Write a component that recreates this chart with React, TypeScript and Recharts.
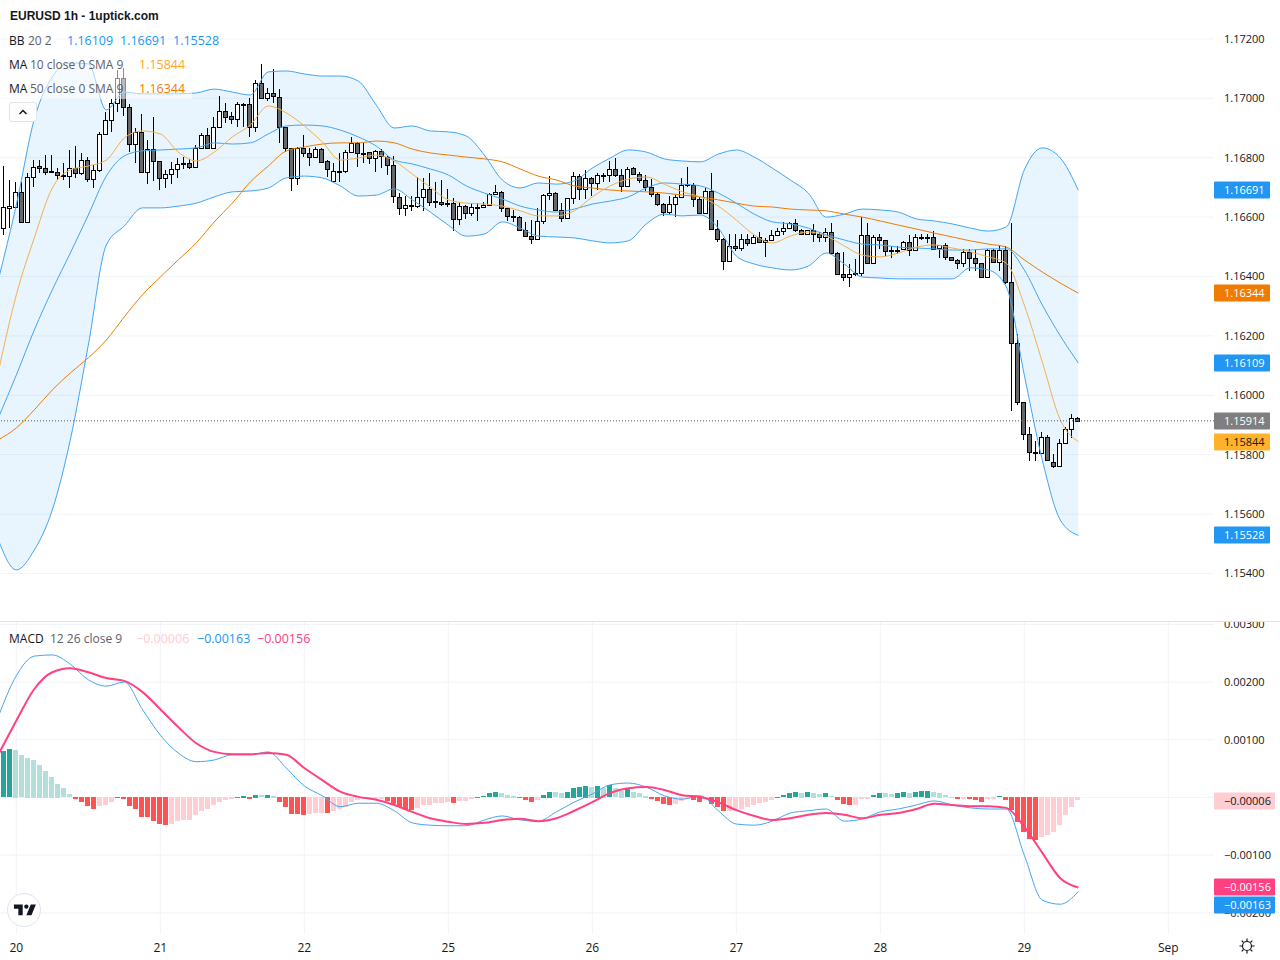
import React from 'react';
import {
  ComposedChart,
  Area,
  Bar,
  Line,
  XAxis,
  YAxis,
  CartesianGrid,
  ReferenceLine,
} from 'recharts';

// hourly candles, first one sits just off the left edge
const opens = [1.16563,
  1.16562,1.16631,1.16635,1.16683,1.16585,1.16734,1.16771,1.16764,1.16754,1.16751,
  1.16741,1.16740,1.16764,1.16747,1.16791,1.16727,1.16757,1.16880,1.16927,1.16983,
  1.17067,1.16970,1.16845,1.16885,1.16751,1.16828,1.16788,1.16731,1.16744,1.16761,
  1.16779,1.16781,1.16768,1.16832,1.16875,1.16832,1.16902,1.16956,1.16939,1.16929,
  1.16978,1.16980,1.16905,1.17050,1.17000,1.17017,1.17006,1.16902,1.16832,1.16731,
  1.16832,1.16815,1.16801,1.16828,1.16788,1.16720,1.16752,1.16754,1.16820,1.16851,
  1.16817,1.16818,1.16798,1.16824,1.16804,1.16774,1.16669,1.16630,1.16642,1.16637,
  1.16667,1.16694,1.16653,1.16652,1.16646,1.16646,1.16593,1.16639,1.16613,1.16635,
  1.16634,1.16642,1.16677,1.16686,1.16630,1.16604,1.16602,1.16556,1.16535,1.16525,
  1.16586,1.16673,1.16680,1.16623,1.16596,1.16663,1.16737,1.16694,1.16731,1.16714,
  1.16739,1.16741,1.16761,1.16741,1.16704,1.16764,1.16744,1.16724,1.16700,1.16678,
  1.16643,1.16618,1.16643,1.16667,1.16708,1.16709,1.16660,1.16615,1.16689,1.16559,
  1.16525,1.16451,1.16502,1.16495,1.16525,1.16512,1.16532,1.16515,1.16522,1.16539,
  1.16552,1.16562,1.16579,1.16556,1.16542,1.16556,1.16542,1.16532,1.16549,1.16480,
  1.16407,1.16397,1.16409,1.16411,1.16539,1.16447,1.16532,1.16522,1.16487,1.16488,
  1.16492,1.16515,1.16488,1.16531,1.16534,1.16532,1.16495,1.16505,1.16465,1.16455,
  1.16444,1.16481,1.16461,1.16444,1.16397,1.16488,1.16450,1.16488,1.16380,1.16175,
  1.15976,1.15868,1.15808,1.15807,1.15858,1.15777,1.15763,1.15841,1.15885,1.15922];

const highs = [1.16624,
  1.16772,1.16725,1.16719,1.16719,1.16747,1.16792,1.16792,1.16809,1.16809,1.16764,
  1.16781,1.16826,1.16839,1.16815,1.16804,1.16775,1.16888,1.16955,1.16997,1.17095,
  1.17101,1.16981,1.16899,1.16947,1.16860,1.16936,1.16790,1.16759,1.16787,1.16798,
  1.16804,1.16795,1.16843,1.16882,1.16899,1.16936,1.17008,1.16983,1.16954,1.16989,
  1.16983,1.17000,1.17062,1.17114,1.17034,1.17098,1.17030,1.16904,1.16834,1.16837,
  1.16876,1.16832,1.16837,1.16832,1.16792,1.16781,1.16815,1.16826,1.16871,1.16854,
  1.16854,1.16820,1.16825,1.16828,1.16807,1.16806,1.16682,1.16671,1.16671,1.16736,
  1.16733,1.16750,1.16719,1.16725,1.16694,1.16663,1.16652,1.16641,1.16649,1.16649,
  1.16652,1.16682,1.16707,1.16687,1.16631,1.16624,1.16603,1.16585,1.16590,1.16630,
  1.16678,1.16738,1.16685,1.16646,1.16664,1.16752,1.16744,1.16759,1.16736,1.16747,
  1.16750,1.16790,1.16800,1.16761,1.16770,1.16770,1.16751,1.16742,1.16727,1.16680,
  1.16646,1.16671,1.16674,1.16731,1.16768,1.16714,1.16669,1.16697,1.16750,1.16590,
  1.16529,1.16542,1.16542,1.16542,1.16542,1.16540,1.16549,1.16529,1.16557,1.16562,
  1.16585,1.16585,1.16593,1.16559,1.16557,1.16576,1.16551,1.16562,1.16579,1.16484,
  1.16481,1.16442,1.16458,1.16602,1.16579,1.16540,1.16542,1.16523,1.16501,1.16503,
  1.16520,1.16540,1.16542,1.16542,1.16542,1.16553,1.16507,1.16512,1.16467,1.16458,
  1.16493,1.16492,1.16489,1.16447,1.16492,1.16493,1.16502,1.16501,1.16579,1.16205,
  1.15977,1.15892,1.15846,1.15875,1.15866,1.15801,1.15853,1.15892,1.15936,1.15928];

const lows = [1.16338,
  1.16540,1.16562,1.16633,1.16585,1.16583,1.16702,1.16747,1.16742,1.16747,1.16725,
  1.16725,1.16699,1.16731,1.16742,1.16719,1.16699,1.16753,1.16876,1.16888,1.16955,
  1.16940,1.16820,1.16781,1.16749,1.16710,1.16722,1.16691,1.16699,1.16710,1.16731,
  1.16761,1.16763,1.16767,1.16831,1.16829,1.16829,1.16900,1.16918,1.16914,1.16902,
  1.16905,1.16869,1.16888,1.16998,1.16992,1.16983,1.16851,1.16820,1.16689,1.16708,
  1.16804,1.16773,1.16798,1.16781,1.16736,1.16718,1.16719,1.16747,1.16818,1.16768,
  1.16781,1.16779,1.16753,1.16764,1.16742,1.16649,1.16607,1.16604,1.16622,1.16630,
  1.16621,1.16637,1.16632,1.16637,1.16635,1.16554,1.16573,1.16594,1.16605,1.16588,
  1.16633,1.16641,1.16673,1.16618,1.16588,1.16585,1.16554,1.16532,1.16510,1.16523,
  1.16578,1.16658,1.16622,1.16585,1.16595,1.16644,1.16658,1.16660,1.16671,1.16691,
  1.16718,1.16719,1.16736,1.16686,1.16703,1.16742,1.16714,1.16689,1.16669,1.16637,
  1.16604,1.16607,1.16602,1.16663,1.16703,1.16635,1.16611,1.16611,1.16557,1.16517,
  1.16423,1.16450,1.16487,1.16487,1.16501,1.16508,1.16514,1.16464,1.16521,1.16536,
  1.16540,1.16560,1.16551,1.16539,1.16540,1.16517,1.16517,1.16517,1.16478,1.16406,
  1.16386,1.16366,1.16400,1.16400,1.16446,1.16446,1.16492,1.16469,1.16461,1.16476,
  1.16490,1.16469,1.16487,1.16523,1.16514,1.16494,1.16461,1.16456,1.16452,1.16426,
  1.16433,1.16420,1.16420,1.16396,1.16396,1.16447,1.16420,1.16375,1.15948,1.15966,
  1.15849,1.15780,1.15780,1.15802,1.15780,1.15756,1.15762,1.15838,1.15855,1.15913];

const closes = [1.16355,
  1.16633,1.16637,1.16683,1.16585,1.16734,1.16770,1.16764,1.16753,1.16751,1.16741,
  1.16743,1.16764,1.16747,1.16791,1.16727,1.16757,1.16880,1.16927,1.16983,1.17067,
  1.16970,1.16845,1.16885,1.16751,1.16828,1.16788,1.16731,1.16744,1.16761,1.16778,
  1.16781,1.16768,1.16832,1.16875,1.16832,1.16902,1.16956,1.16938,1.16929,1.16980,
  1.16980,1.16905,1.17050,1.17000,1.17017,1.17007,1.16902,1.16832,1.16731,1.16832,
  1.16815,1.16801,1.16828,1.16787,1.16761,1.16754,1.16755,1.16820,1.16851,1.16815,
  1.16815,1.16798,1.16824,1.16806,1.16774,1.16670,1.16630,1.16642,1.16639,1.16667,
  1.16694,1.16650,1.16651,1.16643,1.16643,1.16593,1.16639,1.16613,1.16635,1.16632,
  1.16642,1.16677,1.16686,1.16630,1.16604,1.16602,1.16556,1.16535,1.16525,1.16586,
  1.16673,1.16680,1.16623,1.16596,1.16663,1.16737,1.16694,1.16731,1.16714,1.16741,
  1.16741,1.16761,1.16741,1.16704,1.16763,1.16744,1.16724,1.16700,1.16678,1.16643,
  1.16618,1.16643,1.16667,1.16709,1.16710,1.16660,1.16615,1.16689,1.16559,1.16525,
  1.16451,1.16501,1.16495,1.16525,1.16512,1.16532,1.16515,1.16522,1.16539,1.16552,
  1.16562,1.16579,1.16556,1.16542,1.16556,1.16542,1.16532,1.16549,1.16480,1.16407,
  1.16397,1.16410,1.16411,1.16539,1.16447,1.16532,1.16522,1.16487,1.16489,1.16490,
  1.16515,1.16488,1.16532,1.16533,1.16532,1.16494,1.16505,1.16465,1.16455,1.16444,
  1.16481,1.16461,1.16444,1.16397,1.16488,1.16450,1.16488,1.16380,1.16175,1.15976,
  1.15868,1.15808,1.15806,1.15858,1.15781,1.15763,1.15841,1.15885,1.15922,1.15914];

// indicator lines, one reading every third candle
const bbUpper = [1.16388,1.16641,1.16930,1.17072,1.17119,1.17116,1.16961,1.17021,1.17015,1.17015,
  1.17015,1.17018,1.17031,1.17021,1.17011,1.17089,1.17092,1.17082,1.17075,1.17075,
  1.17058,1.16977,1.16900,1.16907,1.16890,1.16887,1.16873,1.16809,1.16725,1.16698,
  1.16715,1.16711,1.16722,1.16765,1.16799,1.16826,1.16819,1.16796,1.16789,1.16786,
  1.16812,1.16826,1.16802,1.16765,1.16725,1.16681,1.16600,1.16610,1.16627,1.16624,
  1.16617,1.16594,1.16587,1.16577,1.16563,1.16553,1.16567,1.16759,1.16833,1.16799,1.16691];

const bbBasis = [1.15924,1.16068,1.16220,1.16355,1.16479,1.16607,1.16738,1.16806,1.16823,1.16826,
  1.16829,1.16833,1.16850,1.16846,1.16850,1.16880,1.16907,1.16910,1.16907,1.16893,
  1.16870,1.16839,1.16792,1.16779,1.16762,1.16742,1.16705,1.16681,1.16661,1.16637,
  1.16624,1.16617,1.16627,1.16644,1.16654,1.16668,1.16698,1.16715,1.16711,1.16705,
  1.16681,1.16647,1.16610,1.16584,1.16577,1.16563,1.16540,1.16523,1.16509,1.16506,
  1.16499,1.16496,1.16493,1.16489,1.16489,1.16493,1.16493,1.16422,1.16304,1.16200,1.16109];

const bbLower = [1.15513,1.15412,1.15479,1.15614,1.15850,1.16169,1.16506,1.16570,1.16631,1.16631,
  1.16637,1.16647,1.16668,1.16685,1.16688,1.16698,1.16732,1.16738,1.16732,1.16705,
  1.16671,1.16674,1.16695,1.16658,1.16617,1.16573,1.16536,1.16543,1.16584,1.16563,
  1.16536,1.16533,1.16530,1.16520,1.16513,1.16520,1.16577,1.16610,1.16604,1.16607,
  1.16563,1.16469,1.16442,1.16429,1.16422,1.16435,1.16479,1.16442,1.16398,1.16395,
  1.16392,1.16392,1.16392,1.16392,1.16429,1.16422,1.16365,1.16068,1.15782,1.15580,1.15528];

const ma10 = [1.16078,1.16338,1.16530,1.16698,1.16759,1.16772,1.16792,1.16866,1.16890,1.16880,
  1.16819,1.16789,1.16819,1.16870,1.16910,1.16974,1.16951,1.16907,1.16853,1.16792,
  1.16799,1.16809,1.16789,1.16745,1.16701,1.16658,1.16647,1.16644,1.16637,1.16621,
  1.16604,1.16604,1.16621,1.16668,1.16705,1.16728,1.16735,1.16711,1.16685,1.16668,
  1.16637,1.16590,1.16540,1.16513,1.16536,1.16550,1.16536,1.16503,1.16472,1.16466,
  1.16479,1.16499,1.16506,1.16496,1.16483,1.16466,1.16445,1.16304,1.16112,1.15917,1.15844];

const ma50 = [1.15850,1.15890,1.15951,1.16018,1.16075,1.16126,1.16186,1.16264,1.16338,1.16398,
  1.16456,1.16513,1.16584,1.16647,1.16718,1.16772,1.16823,1.16836,1.16846,1.16850,
  1.16850,1.16856,1.16850,1.16829,1.16816,1.16809,1.16802,1.16796,1.16786,1.16762,
  1.16738,1.16725,1.16705,1.16698,1.16691,1.16688,1.16685,1.16681,1.16674,1.16668,
  1.16658,1.16647,1.16637,1.16634,1.16627,1.16624,1.16621,1.16610,1.16600,1.16587,
  1.16573,1.16560,1.16546,1.16533,1.16520,1.16509,1.16499,1.16456,1.16415,1.16378,1.16344];

const macdLine = [0.0014,0.00211,0.00245,0.00247,0.00231,0.00204,0.00193,0.002,0.00153,0.00108,
  0.00077,0.00062,0.00065,0.00074,0.00074,0.00079,0.00051,0.0002,0.00003,-0.00016,
  -0.0001,-0.0001,-0.00023,-0.00044,-0.00048,-0.00049,-0.00049,-0.00039,-0.00032,-0.00039,
  -0.00041,-0.00025,-0.00008,0.00006,0.00022,0.00025,0.00018,0.00003,-0.00003,0.00003,
  -0.00023,-0.00046,-0.00048,-0.00041,-0.00027,-0.00023,-0.0002,-0.00041,-0.00037,-0.00025,
  -0.0002,-0.00013,-0.00006,-0.00013,-0.00018,-0.0002,-0.0002,-0.001,-0.00178,-0.00185,-0.00163];

const signalLine = [0.00074,0.00133,0.00188,0.00217,0.00224,0.00217,0.00207,0.00202,0.00183,0.00153,
  0.00122,0.00094,0.00079,0.00075,0.00075,0.00077,0.00074,0.00051,0.0003,0.0001,
  0.00001,-0.00004,-0.00013,-0.00025,-0.00036,-0.00042,-0.00046,-0.00044,-0.00039,-0.00037,
  -0.00041,-0.00036,-0.00023,-0.00008,0.00008,0.00016,0.00018,0.00013,0.00004,0.00001,
  -0.00008,-0.00022,-0.00032,-0.00039,-0.00036,-0.0003,-0.00027,-0.0003,-0.00036,-0.0003,
  -0.00027,-0.0002,-0.00011,-0.00013,-0.00015,-0.00015,-0.00018,-0.00051,-0.00096,-0.0014,-0.00156];

const histValues = [0.00066,
  0.0008,0.00084,0.00083,0.00073,0.00069,0.00065,0.00057,0.00046,0.00036,0.00024,
  0.00016,0.00006,-0.00004,-0.00008,-0.00016,-0.00021,-0.00016,-0.00013,-0.00008,0.00001,
  -0.00004,-0.00016,-0.00021,-0.00034,-0.00035,-0.00042,-0.00047,-0.00049,-0.00047,-0.00042,
  -0.0004,-0.00039,-0.00032,-0.00025,-0.00021,-0.00014,-0.00008,-0.00005,-0.00004,0.00001,
  0.00003,-0.00004,0.00005,0.00004,0.00005,0.00003,-0.00008,-0.00018,-0.00029,-0.0003,
  -0.00031,-0.0003,-0.00028,-0.00027,-0.00028,-0.00025,-0.00021,-0.00018,-0.00008,-0.00006,
  -0.00004,-0.00004,-0.00004,-0.00004,-0.00007,-0.00012,-0.00017,-0.00021,-0.00022,-0.00019,
  -0.00013,-0.00013,-0.0001,-0.0001,-0.00009,-0.0001,-0.00007,-0.00007,-0.00003,0.00001,
  0.00002,0.00007,0.00009,0.00007,0.00005,0.00003,-0.00001,-0.00005,-0.00009,-0.00005,
  0.00005,0.0001,0.00009,0.00008,0.0001,0.00017,0.00018,0.0002,0.00019,0.0002,
  0.00017,0.00021,0.00016,0.00012,0.00016,0.0001,0.00007,0.00003,-0.00003,-0.00007,
  -0.00012,-0.00013,-0.00012,-0.00007,-0.00004,-0.00005,-0.00008,-0.00004,-0.00012,-0.00017,
  -0.00025,-0.00025,-0.00024,-0.0002,-0.00017,-0.00013,-0.0001,-0.00008,-0.00005,0.00001,
  0.00004,0.00008,0.00009,0.00008,0.00009,0.00008,0.00006,0.00007,0.00002,-0.00006,
  -0.00012,-0.00013,-0.00013,-0.00003,-0.00003,0.00004,0.00008,0.00007,0.00006,0.00008,
  0.00009,0.00008,0.00009,0.00011,0.00012,0.00009,0.00008,0.00004,0.00001,-0.00003,
  -0.00003,-0.00004,-0.00005,-0.00008,-0.00003,-0.00003,0.00002,-0.00005,-0.00022,-0.00043,
  -0.0006,-0.00072,-0.00074,-0.00069,-0.00065,-0.0006,-0.00048,-0.00032,-0.00018,-0.00006];

const dayTicks = [2, 26, 50, 74, 98, 122, 146, 170, 194];
const dayLabels = ['20', '21', '22', '25', '26', '27', '28', '29', 'Sep'];
const priceTicks = [1.154, 1.156, 1.158, 1.16, 1.162, 1.164, 1.166, 1.168, 1.17, 1.172];
const macdTicks = [-0.002, -0.001, 0, 0.001, 0.002, 0.003];

const priceBadges = [1.16691, 1.16344, 1.16109, 1.15914, 1.15844, 1.15528];
const priceBadgeColors = ['#2196f3', '#ef7c00', '#2196f3', '#7f7f7f', '#ffb32a', '#2196f3'];
const priceBadgeText = ['#fff', '#fff', '#fff', '#fff', '#131722', '#fff'];
const macdBadges = [-0.00006, -0.00156, -0.00163];
const macdBadgeColors = ['#ffcdd2', '#ff4081', '#2196f3'];
const macdBadgeText = ['#131722', '#fff', '#fff'];
// the last MACD badge is pushed down so it does not cover the signal badge
const macdBadgeShift = [0, 0, 13];

const AXIS_FONT = '"Open Sans", sans-serif';
const TEXT = '#131722';
const GRID = '#f0f3fa';
const BLUE = '#2196f3';
const BB_LINE = '#42a5f5';

// x runs in candle numbers, so one candle is 6px across the 1214px plot
const xDomain: [number, number] = [-0.7167, 201.617];
const priceDomain: [number, number] = [1.1524, 1.17331];
const macdDomain: [number, number] = [-0.002366, 0.003041];

const sampled = (list: number[], i: number) => (i % 3 === 0 ? list[i / 3] : null);

const priceRows = opens.map((open, i) => ({
  idx: i - 1,
  open,
  high: highs[i],
  low: lows[i],
  close: closes[i],
  upper: sampled(bbUpper, i),
  basis: sampled(bbBasis, i),
  lower: sampled(bbLower, i),
  ma10: sampled(ma10, i),
  ma50: sampled(ma50, i),
}));

const histColor = (i: number) => {
  const v = histValues[i];
  const prev = i > 0 ? histValues[i - 1] : v;
  if (v >= 0) return v >= prev ? '#26a69a' : '#b2dfdb';
  return v < prev ? '#ff5252' : '#ffcdd2';
};

const macdRows = histValues.map((hist, i) => ({
  idx: i - 1,
  hist,
  color: histColor(i),
  macd: sampled(macdLine, i),
  signal: sampled(signalLine, i),
}));

const fmtPrice = (v: number) => v.toFixed(5);
const fmtMacd = (v: number) => (v < 0 ? '\u2212' : '') + Math.abs(v).toFixed(5);

const CandleShape = (props: any) => {
  const { x, y, width, height, payload } = props;
  const { open, high, low, close } = payload;
  const perPrice = height / (high - low);
  const toY = (p: number) => y + (high - p) * perPrice;
  const cx = Math.floor(x + width / 2) + 0.5;
  const top = Math.round(toY(Math.max(open, close))) + 0.5;
  const bottom = Math.max(Math.round(toY(Math.min(open, close))) + 0.5, top + 1);
  return (
    <g>
      <line x1={cx} x2={cx} y1={Math.round(y)} y2={Math.round(y + height)} stroke="#000" strokeWidth={1} />
      <rect
        x={cx - 2}
        y={top}
        width={4}
        height={bottom - top}
        fill={close >= open ? '#fff' : '#666'}
        stroke="#000"
        strokeWidth={1}
      />
    </g>
  );
};

const HistShape = (props: any) => {
  const { x, y, width, height, payload } = props;
  const top = Math.min(y, y + height);
  return (
    <rect
      x={Math.round(x)}
      y={Math.round(top)}
      width={Math.round(width)}
      height={Math.max(1, Math.round(Math.abs(height)))}
      fill={payload.color}
    />
  );
};

const badgeLabel = (text: string, fill: string, color: string, shift: number, wide: number) => (props: any) => {
  const { viewBox } = props;
  const left = viewBox.x + viewBox.width;
  const cy = Math.round(viewBox.y) + shift;
  return (
    <g>
      <rect x={left} y={cy - 8.5} width={wide} height={17} rx={1} fill={fill} />
      <text x={left + 10} y={cy + 4} fontFamily={AXIS_FONT} fontSize={11} fill={color}>
        {text}
      </text>
    </g>
  );
};

const Txt = ({ x, y, color = TEXT, bold, size = 12, family, children }: any) => (
  <span
    style={{
      position: 'absolute',
      left: x,
      top: y - 9,
      lineHeight: '20px',
      fontSize: size,
      color,
      fontWeight: bold ? 700 : 400,
      fontFamily: family || AXIS_FONT,
      whiteSpace: 'nowrap',
    }}
  >
    {children}
  </span>
);

const PriceChart = () => (
  <ComposedChart
    width={1280}
    height={621}
    data={priceRows}
    margin={{ top: 0, right: 0, bottom: 0, left: 0 }}
  >
    <CartesianGrid stroke={GRID} strokeWidth={1} syncWithTicks />
    <XAxis
      type="number"
      dataKey="idx"
      domain={xDomain}
      allowDataOverflow
      ticks={dayTicks}
      interval={0}
      tick={false}
      axisLine={false}
      tickLine={false}
      height={0}
    />
    <YAxis
      orientation="right"
      domain={priceDomain}
      allowDataOverflow
      ticks={priceTicks}
      interval={0}
      width={66}
      axisLine={false}
      tickLine={false}
      tickMargin={4}
      tickFormatter={fmtPrice}
      tick={{ fontSize: 11, fill: TEXT, fontFamily: AXIS_FONT }}
    />
    <Area
      dataKey={(d: any) => (d.upper == null ? null : [d.lower, d.upper])}
      name="BB band"
      type="monotone"
      stroke="none"
      fill={BLUE}
      fillOpacity={0.1}
      connectNulls
      isAnimationActive={false}
      dot={false}
      activeDot={false}
    />
    <Line dataKey="ma50" type="monotone" stroke="#ef7c00" strokeWidth={1} dot={false} connectNulls isAnimationActive={false} />
    <Line dataKey="upper" type="monotone" stroke={BB_LINE} strokeWidth={1} dot={false} connectNulls isAnimationActive={false} />
    <Line dataKey="basis" type="monotone" stroke={BB_LINE} strokeWidth={1} dot={false} connectNulls isAnimationActive={false} />
    <Line dataKey="lower" type="monotone" stroke={BB_LINE} strokeWidth={1} dot={false} connectNulls isAnimationActive={false} />
    <Line dataKey="ma10" type="monotone" stroke="#f5b04a" strokeWidth={1} dot={false} connectNulls isAnimationActive={false} />
    <Bar
      dataKey={(d: any) => [d.low, d.high]}
      name="EURUSD"
      barSize={5}
      shape={CandleShape}
      isAnimationActive={false}
    />
    <ReferenceLine y={1.15914} stroke="#555" strokeDasharray="1 2" />
  </ComposedChart>
);

const MacdChart = () => (
  <ComposedChart
    width={1280}
    height={338}
    data={macdRows}
    margin={{ top: 0, right: 0, bottom: 0, left: 0 }}
  >
    <CartesianGrid stroke={GRID} strokeWidth={1} syncWithTicks />
    <XAxis
      type="number"
      dataKey="idx"
      domain={xDomain}
      allowDataOverflow
      ticks={dayTicks}
      interval={0}
      height={26}
      axisLine={false}
      tickLine={false}
      tickMargin={3}
      tickFormatter={(v: number) => dayLabels[dayTicks.indexOf(v)]}
      tick={{ fontSize: 12, fill: TEXT, fontFamily: AXIS_FONT }}
    />
    <YAxis
      orientation="right"
      domain={macdDomain}
      allowDataOverflow
      ticks={macdTicks}
      interval={0}
      width={66}
      axisLine={false}
      tickLine={false}
      tickMargin={4}
      tickFormatter={(v: number) => (v === 0 ? '' : fmtMacd(v))}
      tick={{ fontSize: 11, fill: TEXT, fontFamily: AXIS_FONT }}
    />
    <Bar dataKey="hist" name="Histogram" barSize={5} shape={HistShape} isAnimationActive={false} />
    <Line dataKey="macd" type="monotone" stroke={BB_LINE} strokeWidth={1} dot={false} connectNulls isAnimationActive={false} />
    <Line dataKey="signal" type="monotone" stroke="#ff4081" strokeWidth={2} dot={false} connectNulls isAnimationActive={false} />
  </ComposedChart>
);

// badges go in their own transparent chart on top, so the axis labels stay underneath them
const BadgeLayer = ({ height, bottom, rows, series, domain, values, fills, inks, shifts, wide, fmt }: any) => (
  <ComposedChart
    width={1280}
    height={height}
    data={rows}
    margin={{ top: 0, right: 0, bottom: 0, left: 0 }}
  >
    <XAxis type="number" dataKey="idx" domain={xDomain} allowDataOverflow tick={false} axisLine={false} tickLine={false} height={bottom} />
    <YAxis orientation="right" domain={domain} allowDataOverflow width={66} tick={false} axisLine={false} tickLine={false} />
    <Line dataKey={series} stroke="none" dot={false} connectNulls isAnimationActive={false} />
    {values.map((v: number, i: number) => (
      <ReferenceLine
        key={v}
        y={v}
        stroke="none"
        label={{ content: badgeLabel(fmt(v), fills[i], inks[i], shifts ? shifts[i] : 0, wide) }}
      />
    ))}
  </ComposedChart>
);

const Legend = () => (
  <>
    <div style={{ position: 'absolute', left: 0, top: 53, width: 192, height: 46, background: 'rgba(255,255,255,0.55)' }} />
    <Txt x={10} y={15} bold size={12} family='"Liberation Sans", sans-serif'>EURUSD 1h - 1uptick.com</Txt>
    <Txt x={9} y={40}>BB</Txt>
    <Txt x={28} y={40} color="#5d606b">20 2</Txt>
    <Txt x={67} y={40} color={BLUE} size={12.5}>1.16109</Txt>
    <Txt x={120} y={40} color={BLUE} size={12.5}>1.16691</Txt>
    <Txt x={173} y={40} color={BLUE} size={12.5}>1.15528</Txt>
    <Txt x={9} y={64}>MA</Txt>
    <Txt x={30} y={64} color="#5d606b">10 close 0 SMA 9</Txt>
    <Txt x={139} y={64} color="#ffa726" size={12.5}>1.15844</Txt>
    <Txt x={9} y={88}>MA</Txt>
    <Txt x={30} y={88} color="#5d606b">50 close 0 SMA 9</Txt>
    <Txt x={139} y={88} color="#ef7c00" size={12.5}>1.16344</Txt>
    <div
      style={{
        position: 'absolute',
        left: 9,
        top: 102,
        width: 26,
        height: 18,
        border: '1px solid #e0e3eb',
        borderRadius: 3,
        background: '#fff',
      }}
    >
      <svg width={26} height={18} style={{ display: 'block' }}>
        <path d="M9.5 11 L13 7.5 L16.5 11" fill="none" stroke={TEXT} strokeWidth={1.5} />
      </svg>
    </div>
    <Txt x={9} y={638}>MACD</Txt>
    <Txt x={50} y={638} color="#5d606b">12 26 close 9</Txt>
    <Txt x={136} y={638} color="#ffcdd2" size={12.5}>{'\u22120.00006'}</Txt>
    <Txt x={197} y={638} color={BLUE} size={12.5}>{'\u22120.00163'}</Txt>
    <Txt x={257} y={638} color="#ff4081" size={12.5}>{'\u22120.00156'}</Txt>
  </>
);

const Logo = () => (
  <svg width={36} height={36} style={{ position: 'absolute', left: 6, top: 892 }}>
    <circle cx={18} cy={18} r={16.5} fill="#fff" stroke="#e0e3eb" />
    <g transform="translate(6.5 8) scale(0.73)">
      <path d="M14 6H2v6h6v9h6V6Zm12 15h-7l6-15h7l-6 15Zm-7-9a3 3 0 1 0 0-6 3 3 0 0 0 0 6Z" fill={TEXT} />
    </g>
  </svg>
);

const Gear = () => (
  <svg width={18} height={18} style={{ position: 'absolute', left: 1238, top: 937 }} viewBox="0 0 18 18">
    <circle cx={9} cy={9} r={4.5} fill="none" stroke={TEXT} strokeWidth={1.2} />
    <path
      d="M9 1.5v2.5M9 14v2.5M1.5 9H4M14 9h2.5M3.7 3.7l1.8 1.8M12.5 12.5l1.8 1.8M3.7 14.3l1.8-1.8M12.5 5.5l1.8-1.8"
      stroke={TEXT}
      strokeWidth={1.2}
    />
  </svg>
);

const layer = (top: number, height: number): React.CSSProperties => ({
  position: 'absolute',
  left: 0,
  top,
  width: 1280,
  height,
  overflow: 'hidden',
});

export default function App() {
  return (
    <div style={{ position: 'absolute', left: 0, top: 0, width: 1280, height: 960, background: '#fff', overflow: 'hidden' }}>
      <div style={layer(0, 621)}>
        <PriceChart />
      </div>
      <div style={layer(0, 621)}>
        <BadgeLayer
          height={621}
          bottom={0}
          rows={priceRows}
          series="close"
          domain={priceDomain}
          values={priceBadges}
          fills={priceBadgeColors}
          inks={priceBadgeText}
          wide={56}
          fmt={fmtPrice}
        />
      </div>
      <div style={{ position: 'absolute', left: 0, top: 621, width: 1280, height: 1, background: '#e0e3eb' }} />
      <div style={layer(622, 338)}>
        <MacdChart />
      </div>
      <div style={layer(622, 338)}>
        <BadgeLayer
          height={338}
          bottom={26}
          rows={macdRows}
          series="hist"
          domain={macdDomain}
          values={macdBadges}
          fills={macdBadgeColors}
          inks={macdBadgeText}
          shifts={macdBadgeShift}
          wide={61}
          fmt={fmtMacd}
        />
      </div>
      <Legend />
      <Logo />
      <Gear />
    </div>
  );
}
